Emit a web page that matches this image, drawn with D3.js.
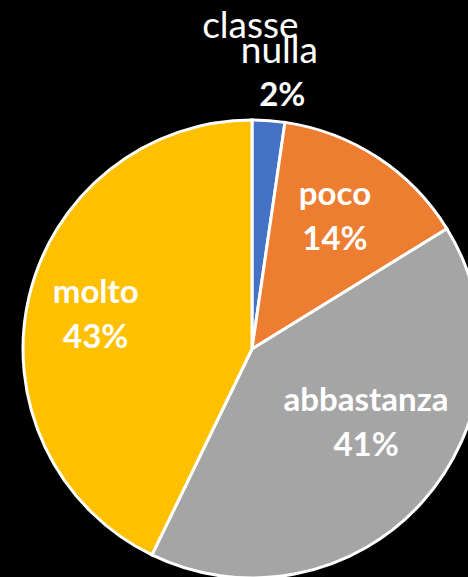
<!DOCTYPE html>
<html lang="it">
<head>
  <meta charset="UTF-8">
  <title>Pie - classe</title>
  <script src="https://cdnjs.cloudflare.com/ajax/libs/d3/7.8.5/d3.min.js"></script>
  <style>
    body { margin:0; background:#000; }
    svg { display:block; }
    .lbl { fill:#fff; font-family:Lato, "Open Sans", sans-serif; font-weight:700; font-size:33px; }
    .lbl-out { font-weight:400; font-size:37px; }
  </style>
</head>
<body>
  <div id="chart"></div>
  <script>
    // values (percent)
    var categories = ["classe nulla", "poco", "abbastanza", "molto"];
    var values = [2.3, 13.9, 41.0, 42.8];
    var colors = ["#4472C4", "#ED7D31", "#A5A5A5", "#FFC000"];

    var width = 468, height = 577;
    var cx = 252, cy = 349, radius = 229;

    var svg = d3.select("#chart").append("svg")
      .attr("width", width)
      .attr("height", height)
      .style("background", "#000");

    var g = svg.append("g").attr("transform", `translate(${cx},${cy})`);

    var pie = d3.pie().sort(null).value(d => d);
    var arcs = pie(values);
    var total = d3.sum(values);

    var arc = d3.arc().innerRadius(0).outerRadius(radius);
    var labelArc = d3.arc().innerRadius(radius * 0.66).outerRadius(radius * 0.66);

    g.selectAll("path.slice")
      .data(arcs)
      .enter().append("path")
      .attr("class", "slice")
      .attr("d", arc)
      .attr("fill", (d, i) => colors[i])
      .attr("stroke", "#fff")
      .attr("stroke-width", 3);

    var pct = d => Math.round(d.value / total * 100) + "%";

    // small nudges so labels sit where excel put them
    var nudge = { 1: [0, -6], 2: [2, -27], 3: [-9, 0] };

    // inside labels
    arcs.forEach(function(d, i) {
      if (i == 0) return;
      var c = labelArc.centroid(d);
      var x = c[0] + nudge[i][0], y = c[1] + nudge[i][1];
      var t = g.append("text").attr("class", "lbl").attr("text-anchor", "middle");
      t.append("tspan").attr("x", x).attr("y", y - 12).text(categories[i]);
      t.append("tspan").attr("x", x).attr("y", y + 33).text(pct(d));
    });

    // outside label for the small slice
    var d0 = arcs[0];
    var a0 = (d0.startAngle + d0.endAngle) / 2;
    var r0 = radius + 25;
    var ox = Math.sin(a0) * r0 + 12, oy = -Math.cos(a0) * r0;
    var words = categories[0].split(" ");
    g.append("text").attr("class", "lbl lbl-out").attr("text-anchor", "middle")
      .attr("x", ox - 32).attr("y", oy - 58).text(words[0]);
    g.append("text").attr("class", "lbl lbl-out").attr("text-anchor", "middle")
      .attr("x", ox - 3).attr("y", oy - 33).text(words[1]);
    g.append("text").attr("class", "lbl").attr("text-anchor", "middle")
      .attr("x", ox).attr("y", oy + 10).text(pct(d0));
  </script>
</body>
</html>
